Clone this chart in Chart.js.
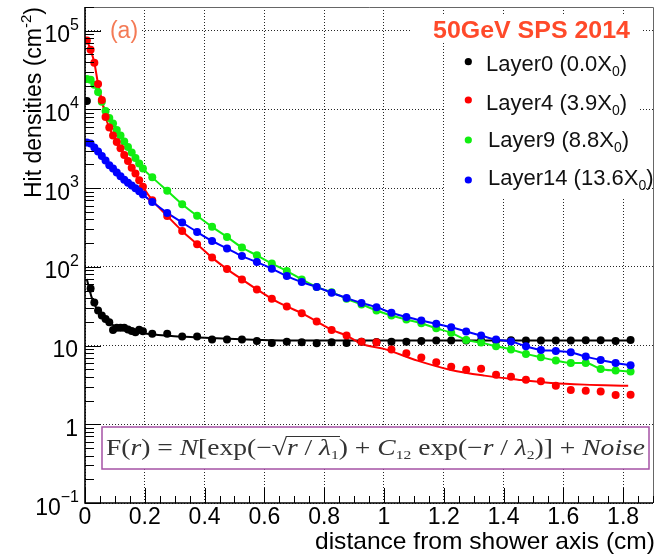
<!DOCTYPE html>
<html>
<head>
<meta charset="utf-8">
<script src="https://cdn.jsdelivr.net/npm/chart.js@4.4.1/dist/chart.umd.min.js"></script>
<style>
html,body{margin:0;padding:0;background:#fff;}
canvas{display:block;}
</style>
</head>
<body>
<canvas id="hitChart" width="659" height="556"></canvas>
<script>
//================= DATA =================
// radial bin centres (cm): fine bins below 0.2, then 0.05 cm bins
const rBins = [0.00625,0.01875,0.03125,0.04375,0.05625,0.06875,0.08125,0.09375,
    0.10625,0.11875,0.13125,0.14375,0.15625,0.16875,0.18125,0.19375,
    0.225,0.275,0.325,0.375,0.425,0.475,0.525,0.575,0.625,0.675,0.725,0.775,0.825,0.875,
    0.925,0.975,1.025,1.075,1.125,1.175,1.225,1.275,1.325,1.375,1.425,1.475,1.525,1.575,
    1.625,1.675,1.725,1.775,1.825];

const layer0 = [12800,53,35.3,27.9,24.1,21.8,19.8,15.8,16.9,16.9,16.8,16.0,15.3,14.8,15.9,15.2,
    14.1,14.1,13.0,13.0,11.9,11.9,11.9,11.4,10.8,11.2,11.0,10.7,11.0,10.8,
    11.2,11.1,11.2,11.2,11.4,11.6,11.6,11.6,11.6,11.6,11.7,11.6,11.6,11.6,
    11.6,11.7,11.7,11.4,11.8];

const layer4 = [75100,57300,39100,21100,13200,8020,5900,4670,3860,3200,2630,2210,1820,1530,1260,1040,
    703,444,286,194,131,93.7,69.3,51.7,39.3,31.4,25.8,20.2,15.8,13.4,
    11.2,11.0,8.9,7.98,7.03,6.12,5.40,4.94,5.09,4.27,4.03,3.69,3.51,3.09,
    2.73,2.67,2.60,2.36,2.38];

const layer9 = [24300,23800,20500,16700,12470,9580,7800,6640,5490,4670,3910,3330,2830,2410,2050,1770,
    1370,925,625,445,322,240,176,140,110,88.5,69.3,55.3,47.7,39.3,
    33.3,27.9,24.1,21.4,19.2,16.6,14.5,11.8,10.9,9.8,8.9,7.84,7.10,6.44,
    6.02,6.02,5.05,4.81,4.67];

const layer14 = [3800,3690,3280,2920,2560,2240,1960,1770,1580,1420,1280,1170,1080,1000,915,827,
    668,484,366,277,213,171,137,115,94.9,76.4,64.0,55.3,46.9,40.1,
    34.8,30.7,26.1,23.0,20.8,18.9,17.1,15.1,13.4,11.9,11.3,9.8,8.81,8.56,
    8.22,7.24,6.57,6.02,5.61];

// fitted curves where they leave the points
const layer0FitR = [0.006,0.022,0.039,0.061,0.095,0.151,0.207,0.319,0.43,0.542,0.654,1.0,1.82];
const layer0FitY = [70,41.2,29.3,22.9,18.0,15.5,14.1,13.0,12.4,11.9,11.6,11.6,11.6];
const layer4TailR = [0.925,1.0,1.112,1.224,1.336,1.448,1.559,1.671,1.817];
const layer4TailY = [10.5,9.08,6.44,4.90,4.15,3.69,3.35,3.19,3.09];

const legendNames = [['Layer0 (0.0X','0',')'],['Layer4 (3.9X','0',')'],['Layer9 (8.8X','0',')'],['Layer14 (13.6X','0',')']];
const xTickVals = [0,0.2,0.4,0.6,0.8,1,1.2,1.4,1.6,1.8];
const yDecades = [0.1,1,10,100,1000,10000,100000];
const yTickLabels = [['10','\u22121'],['1',''],['10',''],['10','2'],['10','3'],['10','4'],['10','5']];

const SANS = '"Liberation Sans", Arial, sans-serif';
const SERIF = '"Liberation Serif", "Times New Roman", serif';
const colors = {l0:'#000000', l4:'#ff0000', l9:'#11ee11', l14:'#0000ff'};

//================= HELPERS =================
const toPts = (rs, ys) => rs.map((r, i) => ({x: r, y: ys[i]}));

function runsWidth(ctx, runs) {
    let w = 0;
    runs.forEach(r => { ctx.font = r.f; w += ctx.measureText(r.t).width; });
    return w;
}
// draws text runs from (x,y) baseline, optionally stretched to a width
function drawRuns(ctx, runs, x, y, opts) {
    opts = opts || {};
    const w = runsWidth(ctx, runs);
    const sx = opts.width ? opts.width / w : 1;
    let x0 = x;
    if (opts.align === 'center') x0 = x - w * sx / 2;
    if (opts.align === 'right') x0 = x - w * sx;
    ctx.save();
    ctx.translate(x0, y);
    ctx.scale(sx, 1);
    ctx.textAlign = 'left';
    ctx.textBaseline = 'alphabetic';
    let cx = 0;
    const marks = {};
    runs.forEach(r => {
        ctx.font = r.f;
        ctx.fillStyle = r.c || opts.color || '#000';
        ctx.fillText(r.t, cx, r.dy || 0);
        const ww = ctx.measureText(r.t).width;
        if (r.tag) marks[r.tag] = [cx, cx + ww];
        cx += ww;
    });
    if (opts.after) opts.after(ctx, marks);
    ctx.restore();
}

//================= PLUGIN =================
const decor = {
    id: 'decor',
    beforeDraw(chart) {
        const ctx = chart.ctx;
        ctx.save();
        ctx.fillStyle = '#fff';
        ctx.fillRect(0, 0, chart.width, chart.height);
        ctx.restore();
    },
    afterDraw(chart) {
        const ctx = chart.ctx, a = chart.chartArea, x = chart.scales.x, y = chart.scales.y;
        ctx.save();
        // frame
        ctx.strokeStyle = '#666';
        ctx.lineWidth = 1;
        ctx.beginPath();
        ctx.moveTo(a.left, a.top + 0.5);
        ctx.lineTo(a.right + 0.5, a.top + 0.5);
        ctx.lineTo(a.right + 0.5, a.bottom);
        ctx.stroke();
        ctx.strokeStyle = '#000';
        ctx.lineWidth = 1.6;
        ctx.beginPath();
        ctx.moveTo(a.left, a.top);
        ctx.lineTo(a.left, a.bottom);
        ctx.lineTo(a.right, a.bottom);
        ctx.stroke();
        // tick marks
        ctx.lineWidth = 1;
        ctx.beginPath();
        yDecades.forEach(d => {
            for (let m = 1; m < 10; m++) {
                const v = d * m;
                if (v > y.max * 1.0001) break;
                const py = Math.round(y.getPixelForValue(v)) + 0.5;
                ctx.moveTo(a.left, py);
                ctx.lineTo(a.left + (m === 1 ? 16 : 9), py);
            }
        });
        for (let k = 0; k * 0.05 <= x.max + 1e-9; k++) {
            const px = Math.round(x.getPixelForValue(k * 0.05)) + 0.5;
            ctx.moveTo(px, a.bottom);
            ctx.lineTo(px, a.bottom - (k % 4 === 0 ? 15 : 7));
        }
        ctx.stroke();

        // y tick labels with exponents
        ctx.fillStyle = '#000';
        ctx.textAlign = 'right';
        ctx.textBaseline = 'alphabetic';
        yTickLabels.forEach((lab, i) => {
            const py = y.getPixelForValue(yDecades[i]);
            let xr = 78;
            if (lab[1]) {
                ctx.font = '16px ' + SANS;
                ctx.fillText(lab[1], 79, py - 1);
                xr = 79 - ctx.measureText(lab[1]).width;
            }
            ctx.font = '23px ' + SANS;
            ctx.fillText(lab[0], xr, py + 11.5);
        });

        // axis titles
        drawRuns(ctx, [{t: 'distance from shower axis (cm)', f: '24px ' + SANS}], 655, 549, {align: 'right', width: 340});
        ctx.save();
        ctx.translate(41, 198);
        ctx.rotate(-Math.PI / 2);
        drawRuns(ctx, [
            {t: 'Hit densities (cm', f: '23px ' + SANS},
            {t: '-2', f: '15px ' + SANS, dy: -10},
            {t: ')', f: '23px ' + SANS}
        ], 0, 0, {width: 191});
        ctx.restore();

        // panel label
        ctx.fillStyle = '#fff';
        ctx.fillRect(101, 17, 41, 27);
        drawRuns(ctx, [{t: '(a)', f: '23px ' + SANS, c: '#f47a55'}], 124, 37.5, {align: 'center'});

        // title + legend
        ctx.fillStyle = '#fff';
        ctx.fillRect(412, 16, 229, 26);
        ctx.fillRect(445, 43, 195, 154);
        drawRuns(ctx, [{t: '50GeV SPS 2014', f: 'bold 24px ' + SANS, c: '#ff4a2a'}], 531.5, 37.5, {align: 'center', width: 197});
        const legColors = [colors.l0, colors.l4, colors.l9, colors.l14];
        const rowBase = [70.7, 110, 146.7, 185];
        const rowDot = [61.7, 100, 140, 180];
        legendNames.forEach((n, i) => {
            ctx.fillStyle = legColors[i];
            ctx.beginPath();
            ctx.arc(468.3, rowDot[i], 3.6, 0, Math.PI * 2);
            ctx.fill();
            drawRuns(ctx, [
                {t: n[0], f: '22px ' + SANS},
                {t: n[1], f: '14px ' + SANS, dy: 5},
                {t: n[2], f: '22px ' + SANS}
            ], i < 2 ? 486 : 488, rowBase[i], {color: '#111'});
        });

        // formula box
        const bx = 102, by = 427, bw = 547, bh = 42;
        ctx.fillStyle = '#fff';
        ctx.fillRect(bx, by, bw, bh);
        ctx.strokeStyle = '#a552a5';
        ctx.lineWidth = 1.5;
        ctx.strokeRect(bx, by, bw, bh);
        const S = 23;
        const fn = S + 'px ' + SERIF, fi = 'italic ' + S + 'px ' + SERIF, fs = '13px ' + SERIF;
        drawRuns(ctx, [
            {t: 'F(', f: fn}, {t: 'r', f: fi}, {t: ') = ', f: fn}, {t: 'N', f: fi},
            {t: '[exp(\u2212', f: fn}, {t: '\u221A', f: fn, tag: 'rs'},
            {t: 'r', f: fi}, {t: ' / ', f: fn}, {t: '\u03BB', f: fi}, {t: '1', f: fs, dy: 4, tag: 're'},
            {t: ') + ', f: fn}, {t: 'C', f: fi}, {t: '12', f: fs, dy: 4},
            {t: ' exp(\u2212', f: fn}, {t: 'r', f: fi}, {t: ' / ', f: fn}, {t: '\u03BB', f: fi},
            {t: '2', f: fs, dy: 4}, {t: ')] + ', f: fn}, {t: 'Noise', f: fi}
        ], 106, 455, {width: 539, color: '#333', after: (c, m) => {
            c.strokeStyle = '#333';
            c.lineWidth = 1;
            c.beginPath();
            c.moveTo(m.rs[1] - 1, -18.5);
            c.lineTo(m.re[1] + 1, -18.5);
            c.stroke();
        }});
        ctx.restore();
    }
};

//================= CHART =================
const pointSet = (ys, color) => ({
    data: toPts(rBins, ys),
    showLine: false,
    pointRadius: 4,
    pointBorderWidth: 0,
    pointBackgroundColor: color,
    borderColor: color,
    backgroundColor: color
});
const lineSet = (pts, color) => ({
    data: pts,
    showLine: true,
    pointRadius: 0,
    borderWidth: 2,
    borderColor: color,
    backgroundColor: color,
    cubicInterpolationMode: 'monotone'
});

const layer4Line = toPts(rBins, layer4).filter(p => p.x < 0.9).concat(toPts(layer4TailR, layer4TailY));

const ctx = document.getElementById('hitChart').getContext('2d');
const chart = new Chart(ctx, {
    type: 'scatter',
    data: {
        datasets: [
            pointSet(layer14, colors.l14),
            pointSet(layer4, colors.l4),
            pointSet(layer9, colors.l9),
            pointSet(layer0, colors.l0),
            lineSet(toPts(rBins, layer14), colors.l14),
            lineSet(layer4Line, colors.l4),
            lineSet(toPts(rBins, layer9), colors.l9),
            lineSet(toPts(layer0FitR, layer0FitY), colors.l0)
        ]
    },
    options: {
        responsive: false,
        animation: false,
        events: [],
        layout: {padding: {left: 0, top: 7, right: 6, bottom: 0}},
        plugins: {legend: {display: false}, tooltip: {enabled: false}},
        scales: {
            x: {
                type: 'linear',
                min: 0,
                max: 1.9,
                afterBuildTicks: s => { s.ticks = xTickVals.map(v => ({value: v})); },
                afterFit: s => { s.height = 53; },
                ticks: {
                    font: {family: SANS, size: 23},
                    color: '#000',
                    padding: 1,
                    maxRotation: 0,
                    autoSkip: false,
                    callback: v => String(v)
                },
                grid: {color: 'rgba(0,0,0,0.85)', lineWidth: 1, drawTicks: false},
                border: {display: false, dash: [1, 2]}
            },
            y: {
                type: 'logarithmic',
                min: 0.1,
                max: 200000,
                afterBuildTicks: s => { s.ticks = yDecades.map(v => ({value: v})); },
                afterFit: s => { s.width = 85; },
                ticks: {display: false},
                grid: {color: 'rgba(0,0,0,0.85)', lineWidth: 1, drawTicks: false},
                border: {display: false, dash: [1, 2]}
            }
        }
    },
    plugins: [decor]
});
</script>
</body>
</html>
